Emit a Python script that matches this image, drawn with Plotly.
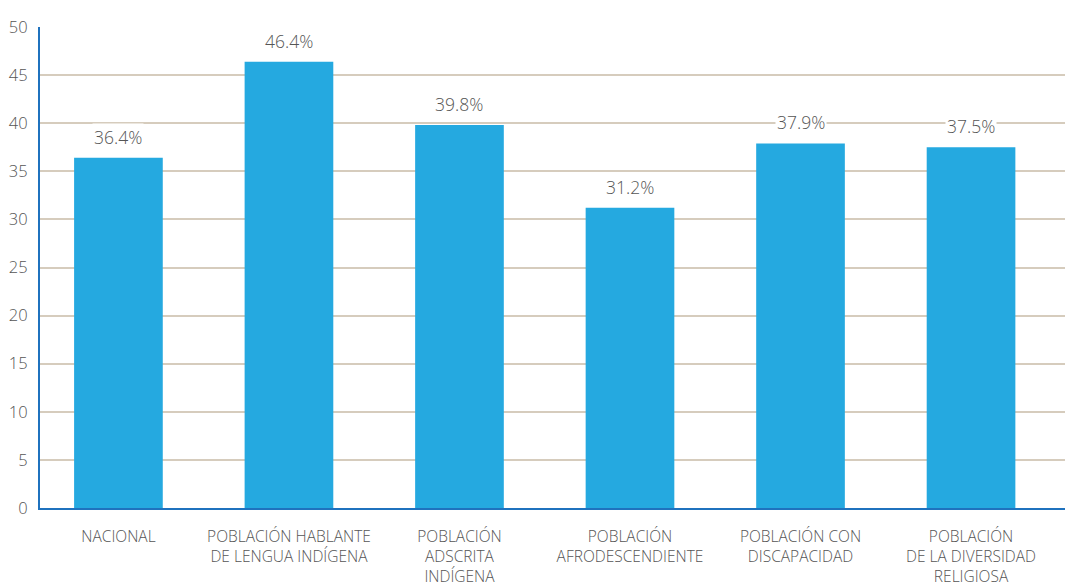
import plotly.graph_objects as go

categories = [
    "NACIONAL",
    "POBLACIÓN HABLANTE<br>DE LENGUA INDÍGENA",
    "POBLACIÓN<br>ADSCRITA<br>INDÍGENA",
    "POBLACIÓN<br>AFRODESCENDIENTE",
    "POBLACIÓN CON<br>DISCAPACIDAD",
    "POBLACIÓN<br>DE LA DIVERSIDAD<br>RELIGIOSA",
]
values = [36.4, 46.4, 39.8, 31.2, 37.9, 37.5]
labels = ["36.4%", "46.4%", "39.8%", "31.2%", "37.9%", "37.5%"]
y_ticks = [0, 5, 10, 15, 20, 25, 30, 35, 40, 45, 50]

FONT = "Open Sans"
TEXT_COLOR = "#555555"
BAR_COLOR = "#25A9E0"
AXIS_COLOR = "#1F72BE"
GRID_COLOR = "#D6CCBD"

xs = list(range(len(categories)))

fig = go.Figure()
fig.add_trace(go.Bar(
    x=xs, y=values, marker=dict(color=BAR_COLOR, line=dict(width=0)),
    width=0.52, hoverinfo="skip",
))

for x, v, t in zip(xs, values, labels):
    fig.add_annotation(
        x=x, y=v, text=t, showarrow=False, yanchor="bottom", yshift=7,
        font=dict(family=FONT, size=17.5, color=TEXT_COLOR, weight=300),
        bgcolor="white", borderpad=1,
    )

# page body adds an 8px offset, compensated in the margins
fig.update_layout(
    width=1073, height=591,
    margin=dict(l=32, r=8, t=19, b=91),
    plot_bgcolor="white", paper_bgcolor="white",
    showlegend=False,
    font=dict(family=FONT, color=TEXT_COLOR, weight=300),
    xaxis=dict(
        tickmode="array", tickvals=xs, ticktext=categories,
        range=[-0.46, 5.598], automargin=False,
        showgrid=False, zeroline=False,
        showline=True, linecolor=AXIS_COLOR, linewidth=2,
        ticks="", tickfont=dict(family=FONT, size=15.5, color=TEXT_COLOR, weight=300),
        ticklabelstandoff=13,
    ),
    yaxis=dict(
        range=[0, 50], tickmode="array", tickvals=y_ticks, automargin=False,
        showgrid=True, gridcolor=GRID_COLOR, gridwidth=1.5,
        zeroline=False,
        showline=True, linecolor=AXIS_COLOR, linewidth=2,
        ticks="", tickfont=dict(family=FONT, size=16.5, color=TEXT_COLOR, weight=300),
        ticklabelstandoff=7,
    ),
)

fig.write_html("out.html")
